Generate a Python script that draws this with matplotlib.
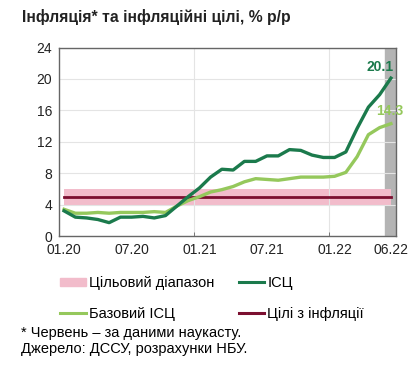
import matplotlib.pyplot as plt
import numpy as np
from matplotlib.patches import Patch
from matplotlib.lines import Line2D

plt.rcParams['font.family'] = ['Liberation Sans', 'DejaVu Sans']

# monthly, 01.2020 .. 06.2022
months = np.arange(30)
cpi = [3.2, 2.4, 2.3, 2.1, 1.7, 2.4, 2.4, 2.5, 2.3, 2.6, 3.8, 5.0,
       6.1, 7.5, 8.5, 8.4, 9.5, 9.5, 10.2, 10.2, 11.0, 10.9, 10.3, 10.0,
       10.0, 10.7, 13.7, 16.4, 18.0, 20.1]
core_cpi = [3.4, 2.9, 2.9, 3.0, 2.9, 3.0, 3.0, 3.0, 3.1, 3.0, 3.8, 4.5,
            5.0, 5.6, 5.9, 6.3, 6.9, 7.3, 7.2, 7.1, 7.3, 7.5, 7.5, 7.5,
            7.6, 8.1, 10.1, 12.9, 13.8, 14.3]
target = 5
band_low, band_high = 4, 6
tick_pos = [0, 6, 12, 18, 24, 29]
tick_labels = ['01.20', '07.20', '01.21', '07.21', '01.22', '06.22']

c_cpi = '#1b7a4c'
c_core = '#95c85c'
c_band = '#f2bccb'
c_target = '#7b0f30'

fig = plt.figure(figsize=(4.11, 3.76), dpi=100)
ax = fig.add_axes([59 / 411, 1 - 236 / 376, 337 / 411, 188.5 / 376])

ax.axvspan(28.5, 29.5, color='#b4b4b4', zorder=0)
ax.fill_between(months, band_low, band_high, color=c_band, lw=0, zorder=1)
ax.plot(months, [target] * len(months), color=c_target, lw=2, zorder=2)
ax.plot(months, core_cpi, color=c_core, lw=2.4, zorder=3)
ax.plot(months, cpi, color=c_cpi, lw=2.4, zorder=4)

ax.annotate(f'{cpi[-1]}', (months[-1], cpi[-1]), xytext=(-8, 8), textcoords='offset points',
            ha='center', va='center', color=c_cpi, fontsize=10, fontweight='bold')
ax.annotate(f'{core_cpi[-1]}', (months[-1], core_cpi[-1]), xytext=(-1, 9), textcoords='offset points',
            ha='center', va='center', color=c_core, fontsize=10, fontweight='bold')

ax.set_xlim(-0.45, 29.45)
ax.set_ylim(0, 24)
ax.set_yticks(np.arange(0, 25, 4))
ax.set_xticks(tick_pos)
ax.set_xticklabels(tick_labels)
ax.set_xticks([11.5, 23.5], minor=True)
ax.tick_params(axis='both', which='major', length=0, labelsize=10, colors='#222222', pad=5)
ax.tick_params(axis='x', which='minor', length=3, direction='in', color='#666666')
ax.grid(axis='y', color='#e4e4e4', lw=0.8, zorder=0)
ax.grid(axis='x', which='minor', color='#e4e4e4', lw=0.8, zorder=0)
for s in ax.spines.values():
    s.set_color('#666666')
    s.set_linewidth(1)

fig.text(22 / 411, 1 - 17 / 376, 'Інфляція* та інфляційні цілі, % р/р', fontsize=11.3,
         fontweight='bold', va='center', ha='left', color='#222222')

handles = [Patch(color=c_band), Line2D([], [], color=c_core, lw=2.2),
           Line2D([], [], color=c_cpi, lw=2.2), Line2D([], [], color=c_target, lw=2.2)]
labels = ['Цільовий діапазон', 'Базовий ІСЦ', 'ІСЦ', 'Цілі з інфляції']
fig.legend(handles, labels, ncol=2, loc='upper left', bbox_to_anchor=(47 / 411, 1 - 263 / 376),
           frameon=False, fontsize=10.5, handlelength=1.75, handleheight=0.5, handletextpad=0.2,
           columnspacing=1.7, labelspacing=1.15)

fig.text(21 / 411, 1 - 333 / 376, '* Червень – за даними наукасту.', fontsize=10.5, va='center')
fig.text(21 / 411, 1 - 349 / 376, 'Джерело: ДССУ, розрахунки НБУ.', fontsize=10.5, va='center')

fig.savefig('out.png', dpi=100)
